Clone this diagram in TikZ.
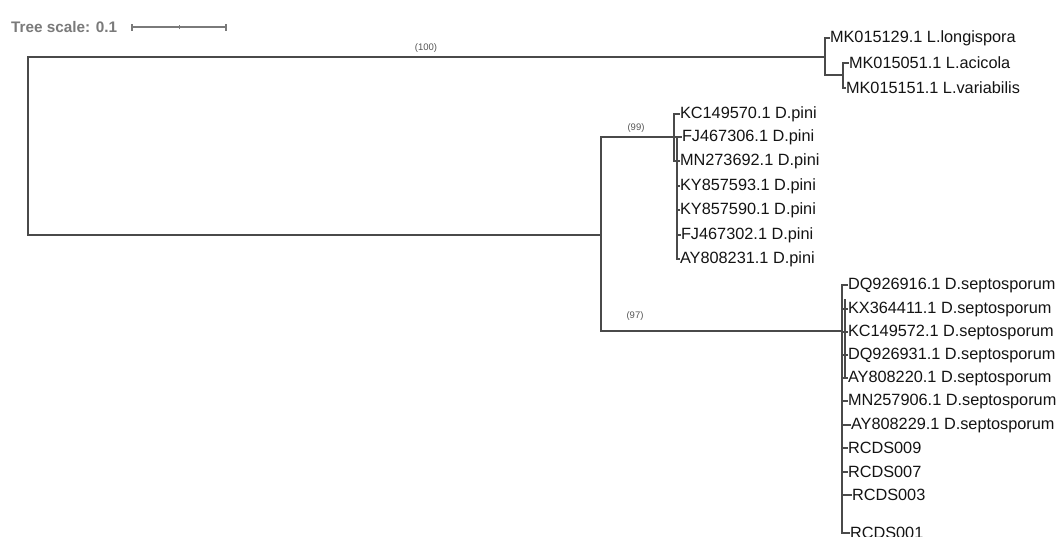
\documentclass[tikz,border=0pt]{standalone}
\usepackage{fontspec}
\setmainfont{Liberation Sans}
\definecolor{branch}{HTML}{4A4A4A}
\definecolor{boot}{HTML}{555555}
\definecolor{scalegray}{HTML}{7A7A7A}
\begin{document}
\begin{tikzpicture}[x=1pt,y=-1pt,
  br/.style={draw=branch,line width=1.6pt,line cap=rect},
  leaf/.style={anchor=west,inner xsep=0.8pt,inner ysep=0pt,font=\fontsize{16.3}{17}\selectfont,text=black!92},
  bootlbl/.style={font=\fontsize{9.5}{10}\selectfont,text=boot,inner sep=0pt},
  scalelbl/.style={anchor=west,inner sep=0pt,font=\fontsize{15.3}{16}\bfseries\selectfont,text=scalegray}]
\useasboundingbox (0,0) rectangle (1058,536);
\fill[white] (0,0) rectangle (1058,536);
% tree scale
\node[scalelbl] (ts) at (11,27) {Tree scale: 0.1};
\coordinate (sa) at (132,27);
\coordinate (sb) at (226,27);
\coordinate (sm) at (179,27);
\draw[scalegray,line width=1.2pt] (sa) -- (sb);
\draw[scalegray,line width=1.2pt] ([yshift=-3.5]sa) -- ([yshift=3.5]sa);
\draw[scalegray,line width=1.2pt] ([yshift=-3.5]sb) -- ([yshift=3.5]sb);
\draw[scalegray,line width=1pt] ([yshift=-2]sm) -- ([yshift=2]sm);
% internal nodes
\coordinate (root) at (28,235);
\coordinate (L) at (825,57);
\coordinate (Ls) at (843,75);
\coordinate (D) at (601,235);
\coordinate (P) at (674,137);
\coordinate (S) at (842,331);
% leaves L
\node[leaf] (l1) at (829,38) {MK015129.1 L.longispora};
\node[leaf] (l2) at (848,63) {MK015051.1 L.acicola};
\node[leaf] (l3) at (845,88) {MK015151.1 L.variabilis};
% leaves D.pini
\node[leaf] (p1) at (679,114) {KC149570.1 D.pini};
\node[leaf] (p2) at (681,137) {FJ467306.1 D.pini};
\node[leaf] (p3) at (679,161) {MN273692.1 D.pini};
\node[leaf] (p4) at (679,186) {KY857593.1 D.pini};
\node[leaf] (p5) at (679,210) {KY857590.1 D.pini};
\node[leaf] (p6) at (680,235) {FJ467302.1 D.pini};
\node[leaf] (p7) at (679,259) {AY808231.1 D.pini};
% leaves D.septosporum
\node[leaf] (s1) at (847,285) {DQ926916.1 D.septosporum};
\node[leaf] (s2) at (847,309) {KX364411.1 D.septosporum};
\node[leaf] (s3) at (847,332) {KC149572.1 D.septosporum};
\node[leaf] (s4) at (847,355) {DQ926931.1 D.septosporum};
\node[leaf] (s5) at (847,378) {AY808220.1 D.septosporum};
\node[leaf] (s6) at (847,401) {MN257906.1 D.septosporum};
\node[leaf] (s7) at (850,425) {AY808229.1 D.septosporum};
\node[leaf] (s8) at (847,448) {RCDS009};
\node[leaf] (s9) at (847,472) {RCDS007};
\node[leaf] (s10) at (851,495) {RCDS003};
\node[leaf] (s11) at (849,533) {RCDS001};
% root
\draw[br] (28,57) -- (28,235);
\draw[br] (28,57) -- (L);
\draw[br] (root) -- (D);
% L clade
\draw[br] (825,38) -- (825,75);
\draw[br] (825,38) -- (l1.west);
\draw[br] (825,75) -- (Ls);
\draw[br] (843,63) -- (843,88);
\draw[br] (843,63) -- (l2.west);
\draw[br] (843,88) -- (l3.west);
% D split
\draw[br] (601,137) -- (601,331);
\draw[br] (601,137) -- (P);
\draw[br] (601,331) -- (S);
% D.pini
\draw[br] (674,114) -- (674,161);
\draw[br] (674,114) -- (p1.west);
\draw[br] (674,137) -- (p2.west);
\draw[br] (674,161) -- (p3.west);
\draw[br] (677,137) -- (677,259);
\draw[br] (677,186) -- (p4.west);
\draw[br] (677,210) -- (p5.west);
\draw[br] (677,235) -- (p6.west);
\draw[br] (677,259) -- (p7.west);
% D.septosporum
\draw[br] (842,285) -- (842,533);
\draw[br] (845,300) -- (845,378);
\draw[br] (842,285) -- (s1.west);
\draw[br] (842,309) -- (s2.west);
\draw[br] (842,332) -- (s3.west);
\draw[br] (842,355) -- (s4.west);
\draw[br] (842,378) -- (s5.west);
\draw[br] (842,401) -- (s6.west);
\draw[br] (842,425) -- (s7.west);
\draw[br] (842,448) -- (s8.west);
\draw[br] (842,472) -- (s9.west);
\draw[br] (842,495) -- (s10.west);
\draw[br] (842,533) -- (s11.west);
% bootstrap
\node[bootlbl] (b100) at (426,48) {(100)};
\node[bootlbl] (b99) at (636,128) {(99)};
\node[bootlbl] (b97) at (635,316) {(97)};
\end{tikzpicture}
\end{document}
